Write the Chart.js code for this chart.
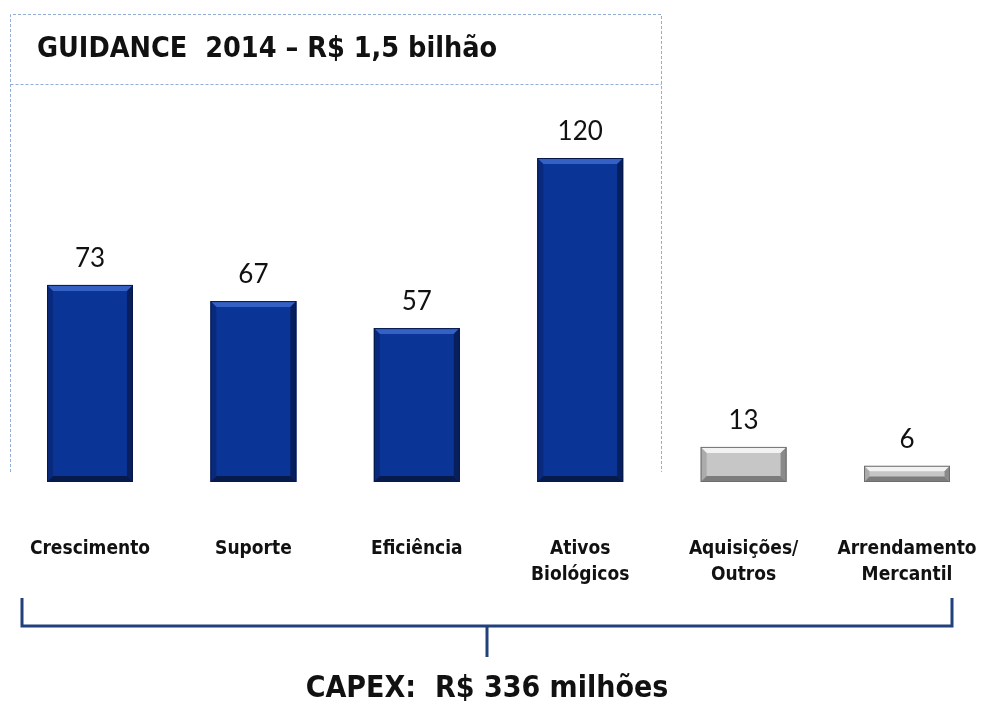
<!DOCTYPE html>
<html>
<head>
<meta charset="utf-8">
<script src="https://cdn.jsdelivr.net/npm/chart.js@4.4.1/dist/chart.umd.min.js"></script>
<style>
html,body{margin:0;padding:0;background:#fff;overflow:hidden;}
#wrap{position:relative;width:981px;height:701px;}
</style>
</head>
<body>
<div id="wrap"><canvas id="c" width="981" height="701"></canvas></div>
<script>
const categories = ["Crescimento", "Suporte", "Eficiência", ["Ativos", "Biológicos"], ["Aquisições/", "Outros"], ["Arrendamento", "Mercantil"]];
const values = [73, 67, 57, 120, 13, 6];
const isGuidance = [true, true, true, true, false, false];
const titleText = "GUIDANCE  2014 – R$ 1,5 bilhão";
const capexText = "CAPEX:  R$ 336 milhões";

const BLUE = {main:'#0b3497', top:'#3561c4', side:'#071f5c', bottom:'#061a4c', border:'#06184a'};
const GRAY = {main:'#c6c6c6', top:'#f2f2f2', side:'#8a8a8a', bottom:'#7c7c7c', border:'#6e6e6e'};
const COND = '"DejaVu Sans Condensed", "DejaVu Sans", sans-serif';

const decorPlugin = {
  id: 'decor',
  beforeDatasetsDraw(chart) {
    const ctx = chart.ctx;
    ctx.save();
    ctx.strokeStyle = '#93aed6';
    ctx.lineWidth = 1;
    ctx.setLineDash([3, 2]);
    const L = 10.5, R = 661.5, T = 14.5, M = 84.5, B = 472;
    ctx.beginPath();
    ctx.moveTo(L, B); ctx.lineTo(L, T); ctx.lineTo(R, T); ctx.lineTo(R, B);
    ctx.moveTo(L, M); ctx.lineTo(R, M);
    ctx.stroke();
    ctx.setLineDash([]);
    ctx.fillStyle = '#111';
    ctx.font = 'bold 28.5px ' + COND;
    ctx.textAlign = 'left';
    ctx.textBaseline = 'middle';
    ctx.fillText(titleText, 37, 50);
    ctx.restore();
  },
  afterDatasetsDraw(chart) {
    const ctx = chart.ctx;
    const meta = chart.getDatasetMeta(0);
    ctx.save();
    meta.data.forEach((bar, i) => {
      const p = bar.getProps(['x','y','base','width'], true);
      const c = isGuidance[i] ? BLUE : GRAY;
      const x0 = p.x - p.width/2, x1 = p.x + p.width/2, y0 = p.y, y1 = p.base;
      const b = Math.min(6, (y1 - y0) / 3);
      ctx.fillStyle = c.top;
      ctx.beginPath(); ctx.moveTo(x0, y0); ctx.lineTo(x1, y0); ctx.lineTo(x1-b, y0+b); ctx.lineTo(x0+b, y0+b); ctx.closePath(); ctx.fill();
      ctx.fillStyle = c.side;
      ctx.beginPath(); ctx.moveTo(x1, y0); ctx.lineTo(x1, y1); ctx.lineTo(x1-b, y1-b); ctx.lineTo(x1-b, y0+b); ctx.closePath(); ctx.fill();
      ctx.fillStyle = c.bottom;
      ctx.beginPath(); ctx.moveTo(x0, y1); ctx.lineTo(x1, y1); ctx.lineTo(x1-b, y1-b); ctx.lineTo(x0+b, y1-b); ctx.closePath(); ctx.fill();
      ctx.globalAlpha = 0.45;
      ctx.fillStyle = c.side;
      ctx.beginPath(); ctx.moveTo(x0, y0); ctx.lineTo(x0, y1); ctx.lineTo(x0+b, y1-b); ctx.lineTo(x0+b, y0+b); ctx.closePath(); ctx.fill();
      ctx.globalAlpha = 1;
      ctx.strokeStyle = c.border; ctx.lineWidth = 1;
      ctx.strokeRect(x0+0.5, y0+0.5, p.width-1, y1-y0-1);
      ctx.fillStyle = '#111';
      ctx.font = '26px Lato, "Open Sans", sans-serif';
      ctx.textAlign = 'center';
      ctx.textBaseline = 'middle';
      ctx.fillText(String(values[i]), p.x, y0 - 26);
    });
    const xs = chart.scales.x;
    const bl = xs.getPixelForValue(0) - 68, br = xs.getPixelForValue(values.length-1) + 45;
    const mid = (bl + br) / 2;
    ctx.strokeStyle = '#22407c';
    ctx.lineWidth = 3;
    ctx.beginPath();
    ctx.moveTo(bl, 598); ctx.lineTo(bl, 626); ctx.lineTo(br, 626); ctx.lineTo(br, 598);
    ctx.moveTo(mid, 626); ctx.lineTo(mid, 657);
    ctx.stroke();
    ctx.fillStyle = '#111';
    ctx.font = 'bold 30px ' + COND;
    ctx.textAlign = 'center';
    ctx.textBaseline = 'middle';
    ctx.fillText(capexText, mid, 689);
    ctx.restore();
  }
};

new Chart(document.getElementById('c'), {
  type: 'bar',
  data: {
    labels: categories,
    datasets: [{
      data: values,
      backgroundColor: isGuidance.map(g => g ? BLUE.main : GRAY.main),
      borderWidth: 0,
      categoryPercentage: 1,
      barPercentage: 0.526,
      clip: false
    }]
  },
  options: {
    responsive: false,
    animation: false,
    events: [],
    layout: { padding: { left: 90, right: 74, top: 131, bottom: 113 } },
    plugins: { legend: { display: false }, tooltip: { enabled: false }, title: { display: false } },
    scales: {
      x: {
        offset: false,
        grid: { display: false, drawTicks: false },
        border: { display: false },
        afterFit(scale) { scale.height = 106; scale.paddingLeft = 0; scale.paddingRight = 0; },
        ticks: {
          color: '#111',
          padding: 54,
          maxRotation: 0,
          autoSkip: false,
          font: { family: COND, weight: 'bold', size: 19, lineHeight: 1.37 }
        }
      },
      y: { display: false, min: 0, max: 130 }
    }
  },
  plugins: [decorPlugin]
});
</script>
</body>
</html>
